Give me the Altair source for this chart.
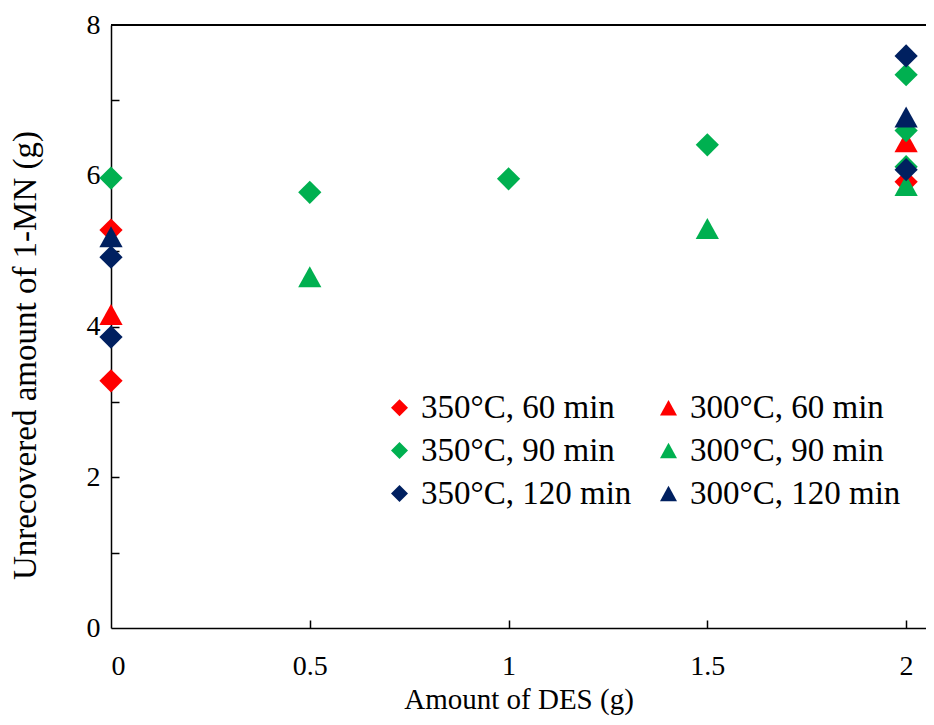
import altair as alt
import pandas as pd

# ---- data ----
series_names = ["350°C, 60 min", "300°C, 60 min", "350°C, 90 min",
                "300°C, 90 min", "350°C, 120 min", "300°C, 120 min"]
series_colors = ["#FF0000", "#FF0000", "#00B050", "#00B050", "#002060", "#002060"]
legend_order = ["350°C, 60 min", "350°C, 90 min", "350°C, 120 min",
                "300°C, 60 min", "300°C, 90 min", "300°C, 120 min"]

s350_60_x = [0, 0, 2]
s350_60_y = [5.28, 3.28, 5.92]
s300_60_x = [0, 2]
s300_60_y = [4.16, 6.45]
s350_90_x = [0, 0.5, 1, 1.5, 2, 2, 2]
s350_90_y = [5.97, 5.78, 5.96, 6.41, 7.34, 6.60, 6.12]
s300_90_x = [0.5, 1.5, 2]
s300_90_y = [4.66, 5.30, 5.87]
s350_120_x = [0, 0, 2, 2]
s350_120_y = [4.92, 3.86, 7.59, 6.08]
s300_120_x = [0, 2]
s300_120_y = [5.19, 6.78]

x_tick_labels = [0, 0.5, 1, 1.5, 2]
y_tick_labels = [0, 2, 4, 6, 8]
x_minor = [0.5, 1, 1.5, 2]
y_minor = [1, 2, 3, 4, 5, 6, 7]

diamond = "M0,-1L1,0L0,1L-1,0Z"
triangle = "M0,-0.9L1,0.9L-1,0.9Z"
shape_of = {n: (diamond if n.startswith("350") else triangle) for n in series_names}
color_of = dict(zip(series_names, series_colors))

xs = [s350_60_x, s300_60_x, s350_90_x, s300_90_x, s350_120_x, s300_120_x]
ys = [s350_60_y, s300_60_y, s350_90_y, s300_90_y, s350_120_y, s300_120_y]
rows = []
for name, xv, yv in zip(series_names, xs, ys):
    for a, b in zip(xv, yv):
        rows.append({"des": a, "mn": b, "series": name})
df = pd.DataFrame(rows)

W, H = 815, 603
FONT = "Liberation Serif, Times New Roman, Times, serif"
xscale = alt.Scale(domain=[0, 2.05], nice=False, zero=False)
yscale = alt.Scale(domain=[0, 8], nice=False, zero=False)

legend = alt.Legend(
    orient="none", legendX=272, legendY=366, columns=2, direction="vertical",
    columnPadding=20, rowPadding=9, labelFont=FONT, labelFontSize=33,
    labelColor="black", symbolSize=289, symbolStrokeWidth=0, labelOffset=5,
    padding=0, labelLimit=400, title=None,
)

points = alt.Chart(df).mark_point(filled=True, opacity=1, size=540, strokeWidth=0).encode(
    x=alt.X("des:Q", scale=xscale,
            axis=alt.Axis(values=x_tick_labels, format="~g", ticks=False, grid=False,
                          labelPadding=24, title="Amount of DES (g)", titlePadding=5,
                          labelFontSize=28, titleFontSize=29)),
    y=alt.Y("mn:Q", scale=yscale,
            axis=alt.Axis(values=y_tick_labels, format="~g", ticks=False, grid=False,
                          labelPadding=11, title="Unrecovered amount of 1-MN (g)",
                          titlePadding=44, titleY=330, labelFontSize=28, titleFontSize=33)),
    color=alt.Color("series:N",
                    scale=alt.Scale(domain=legend_order,
                                    range=[color_of[n] for n in legend_order]),
                    legend=legend),
    shape=alt.Shape("series:N",
                    scale=alt.Scale(domain=legend_order,
                                    range=[shape_of[n] for n in legend_order]),
                    legend=legend),
)

ticks = alt.Chart(df).mark_point(opacity=0).encode(
    x=alt.X("des:Q", scale=xscale,
            axis=alt.Axis(orient="top", offset=-H, values=x_minor, labels=False,
                          domain=False, ticks=True, tickSize=8, tickWidth=1.5,
                          tickColor="black", grid=False, title=None)),
    y=alt.Y("mn:Q", scale=yscale,
            axis=alt.Axis(orient="right", offset=-W, values=y_minor, labels=False,
                          domain=False, ticks=True, tickSize=8, tickWidth=1.5,
                          tickColor="black", grid=False, title=None)),
)

top_line = alt.Chart(df).mark_rule(color="black", strokeWidth=1.5).encode(
    x=alt.value(0), x2=alt.value(W), y=alt.value(0)
)

chart = alt.layer(top_line, ticks, points).resolve_axis(
    x="independent", y="independent"
).properties(
    width=W, height=H,
    autosize=alt.AutoSizeParams(type="none"),
    padding={"left": 103, "top": 17, "right": 0, "bottom": 89},
).configure_view(stroke=None).configure_axis(
    labelFont=FONT, titleFont=FONT, labelColor="black", titleColor="black",
    titleFontWeight="normal", domainColor="black", domainWidth=1.5,
)

chart.save("out.html", embed_options={"renderer": "svg", "actions": False})
